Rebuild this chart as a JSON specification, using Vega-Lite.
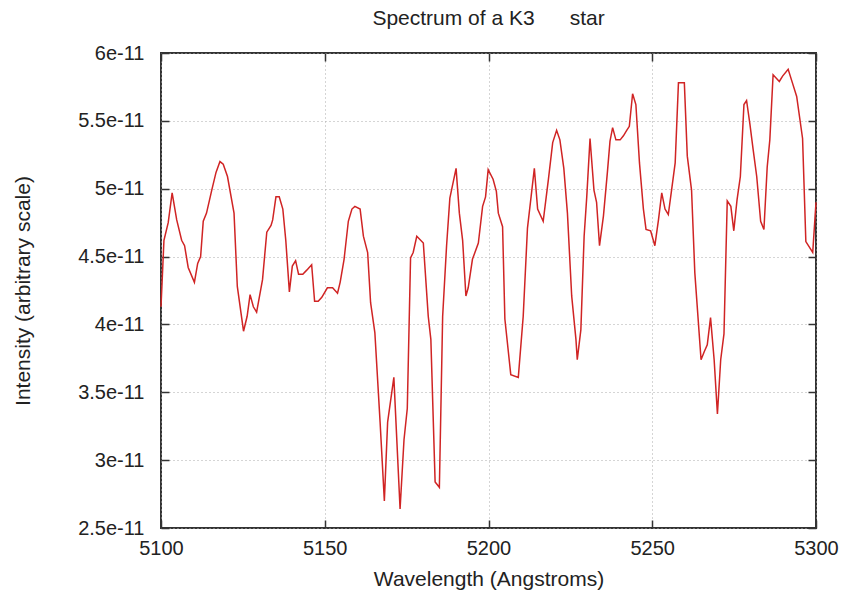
{
  "$schema": "https://vega.github.io/schema/vega-lite/v6.json",
  "autosize": "none",
  "width": 655,
  "height": 475,
  "padding": {"left": 161, "top": 53, "right": 30, "bottom": 67},
  "background": "white",
  "title": {"text": "Spectrum of a K3\u00a0\u00a0\u00a0\u00a0\u00a0\u00a0star", "font": "Liberation Sans", "fontSize": 21, "fontWeight": "normal", "color": "#222", "offset": 14},
  "config": {
    "view": {"stroke": "#333", "strokeWidth": 2},
    "axis": {"labelFont": "Liberation Sans", "titleFont": "Liberation Sans", "labelFontSize": 20, "titleFontSize": 21, "titleFontWeight": "normal", "labelColor": "#222", "titleColor": "#222", "domain": false, "tickColor": "#333", "tickWidth": 1.5}
  },
  "data": {"values": [
    {"wl": 5100.0, "v": 4.13e-11}, {"wl": 5100.9, "v": 4.62e-11}, {"wl": 5102.2, "v": 4.75e-11}, {"wl": 5103.4, "v": 4.97e-11},
    {"wl": 5104.8, "v": 4.77e-11}, {"wl": 5106.3, "v": 4.62e-11}, {"wl": 5107.2, "v": 4.58e-11}, {"wl": 5108.3, "v": 4.42e-11},
    {"wl": 5110.2, "v": 4.31e-11}, {"wl": 5111.2, "v": 4.45e-11}, {"wl": 5112.1, "v": 4.50e-11}, {"wl": 5112.9, "v": 4.76e-11},
    {"wl": 5113.9, "v": 4.82e-11}, {"wl": 5115.5, "v": 4.99e-11}, {"wl": 5116.8, "v": 5.12e-11}, {"wl": 5118.0, "v": 5.20e-11},
    {"wl": 5119.0, "v": 5.18e-11}, {"wl": 5120.3, "v": 5.09e-11}, {"wl": 5122.3, "v": 4.82e-11}, {"wl": 5123.3, "v": 4.28e-11},
    {"wl": 5125.2, "v": 3.95e-11}, {"wl": 5126.3, "v": 4.06e-11}, {"wl": 5127.2, "v": 4.22e-11}, {"wl": 5128.2, "v": 4.13e-11},
    {"wl": 5129.2, "v": 4.09e-11}, {"wl": 5131.0, "v": 4.33e-11}, {"wl": 5132.3, "v": 4.68e-11}, {"wl": 5133.6, "v": 4.73e-11},
    {"wl": 5134.1, "v": 4.77e-11}, {"wl": 5135.1, "v": 4.94e-11}, {"wl": 5136.1, "v": 4.94e-11}, {"wl": 5137.2, "v": 4.85e-11},
    {"wl": 5138.1, "v": 4.62e-11}, {"wl": 5139.2, "v": 4.24e-11}, {"wl": 5140.1, "v": 4.43e-11}, {"wl": 5141.1, "v": 4.47e-11},
    {"wl": 5142.0, "v": 4.37e-11}, {"wl": 5143.3, "v": 4.37e-11}, {"wl": 5144.5, "v": 4.40e-11}, {"wl": 5146.0, "v": 4.44e-11},
    {"wl": 5146.9, "v": 4.17e-11}, {"wl": 5148.0, "v": 4.17e-11}, {"wl": 5149.1, "v": 4.20e-11}, {"wl": 5150.8, "v": 4.27e-11},
    {"wl": 5152.4, "v": 4.27e-11}, {"wl": 5153.9, "v": 4.23e-11}, {"wl": 5154.7, "v": 4.31e-11}, {"wl": 5155.9, "v": 4.48e-11},
    {"wl": 5157.2, "v": 4.76e-11}, {"wl": 5158.3, "v": 4.85e-11}, {"wl": 5159.2, "v": 4.87e-11}, {"wl": 5160.8, "v": 4.85e-11},
    {"wl": 5161.8, "v": 4.65e-11}, {"wl": 5163.1, "v": 4.53e-11}, {"wl": 5164.0, "v": 4.16e-11}, {"wl": 5165.3, "v": 3.94e-11},
    {"wl": 5166.9, "v": 3.28e-11}, {"wl": 5168.2, "v": 2.70e-11}, {"wl": 5169.2, "v": 3.28e-11}, {"wl": 5171.1, "v": 3.61e-11},
    {"wl": 5173.0, "v": 2.64e-11}, {"wl": 5174.2, "v": 3.15e-11}, {"wl": 5175.2, "v": 3.38e-11}, {"wl": 5176.2, "v": 4.49e-11},
    {"wl": 5177.0, "v": 4.53e-11}, {"wl": 5178.1, "v": 4.65e-11}, {"wl": 5180.1, "v": 4.60e-11}, {"wl": 5181.6, "v": 4.06e-11},
    {"wl": 5182.4, "v": 3.89e-11}, {"wl": 5183.7, "v": 2.84e-11}, {"wl": 5185.0, "v": 2.80e-11}, {"wl": 5186.0, "v": 4.06e-11},
    {"wl": 5187.2, "v": 4.58e-11}, {"wl": 5188.2, "v": 4.93e-11}, {"wl": 5190.1, "v": 5.15e-11}, {"wl": 5191.1, "v": 4.82e-11},
    {"wl": 5192.1, "v": 4.62e-11}, {"wl": 5193.1, "v": 4.21e-11}, {"wl": 5193.8, "v": 4.27e-11}, {"wl": 5195.1, "v": 4.48e-11},
    {"wl": 5196.9, "v": 4.60e-11}, {"wl": 5198.2, "v": 4.87e-11}, {"wl": 5199.1, "v": 4.94e-11}, {"wl": 5199.9, "v": 5.14e-11},
    {"wl": 5201.4, "v": 5.07e-11}, {"wl": 5202.4, "v": 4.98e-11}, {"wl": 5203.0, "v": 4.82e-11}, {"wl": 5204.3, "v": 4.72e-11},
    {"wl": 5205.0, "v": 4.04e-11}, {"wl": 5206.8, "v": 3.63e-11}, {"wl": 5209.1, "v": 3.61e-11}, {"wl": 5210.6, "v": 4.06e-11},
    {"wl": 5211.9, "v": 4.71e-11}, {"wl": 5213.0, "v": 4.94e-11}, {"wl": 5214.0, "v": 5.15e-11}, {"wl": 5215.0, "v": 4.85e-11},
    {"wl": 5216.7, "v": 4.76e-11}, {"wl": 5218.3, "v": 5.07e-11}, {"wl": 5219.6, "v": 5.34e-11}, {"wl": 5220.8, "v": 5.43e-11},
    {"wl": 5221.8, "v": 5.36e-11}, {"wl": 5223.0, "v": 5.15e-11}, {"wl": 5224.1, "v": 4.82e-11}, {"wl": 5225.4, "v": 4.21e-11},
    {"wl": 5226.7, "v": 3.89e-11}, {"wl": 5227.1, "v": 3.74e-11}, {"wl": 5228.2, "v": 3.96e-11}, {"wl": 5229.2, "v": 4.65e-11},
    {"wl": 5230.0, "v": 4.94e-11}, {"wl": 5231.0, "v": 5.37e-11}, {"wl": 5232.2, "v": 4.99e-11}, {"wl": 5233.0, "v": 4.90e-11},
    {"wl": 5233.9, "v": 4.58e-11}, {"wl": 5235.1, "v": 4.80e-11}, {"wl": 5236.3, "v": 5.12e-11}, {"wl": 5237.1, "v": 5.35e-11},
    {"wl": 5237.9, "v": 5.45e-11}, {"wl": 5238.9, "v": 5.36e-11}, {"wl": 5240.2, "v": 5.36e-11}, {"wl": 5241.2, "v": 5.39e-11},
    {"wl": 5242.2, "v": 5.43e-11}, {"wl": 5243.0, "v": 5.46e-11}, {"wl": 5244.0, "v": 5.70e-11}, {"wl": 5245.0, "v": 5.62e-11},
    {"wl": 5246.1, "v": 5.19e-11}, {"wl": 5247.3, "v": 4.85e-11}, {"wl": 5248.1, "v": 4.70e-11}, {"wl": 5249.5, "v": 4.69e-11},
    {"wl": 5250.8, "v": 4.58e-11}, {"wl": 5251.9, "v": 4.77e-11}, {"wl": 5252.9, "v": 4.97e-11}, {"wl": 5253.9, "v": 4.85e-11},
    {"wl": 5254.9, "v": 4.81e-11}, {"wl": 5255.9, "v": 4.99e-11}, {"wl": 5257.0, "v": 5.19e-11}, {"wl": 5258.0, "v": 5.78e-11},
    {"wl": 5259.8, "v": 5.78e-11}, {"wl": 5260.7, "v": 5.24e-11}, {"wl": 5262.0, "v": 4.99e-11}, {"wl": 5263.0, "v": 4.38e-11},
    {"wl": 5264.9, "v": 3.74e-11}, {"wl": 5265.9, "v": 3.80e-11}, {"wl": 5266.8, "v": 3.85e-11}, {"wl": 5267.8, "v": 4.05e-11},
    {"wl": 5268.9, "v": 3.74e-11}, {"wl": 5269.9, "v": 3.34e-11}, {"wl": 5270.9, "v": 3.74e-11}, {"wl": 5271.9, "v": 3.93e-11},
    {"wl": 5272.9, "v": 4.91e-11}, {"wl": 5274.0, "v": 4.87e-11}, {"wl": 5274.9, "v": 4.69e-11}, {"wl": 5275.9, "v": 4.92e-11},
    {"wl": 5276.9, "v": 5.09e-11}, {"wl": 5278.0, "v": 5.62e-11}, {"wl": 5278.8, "v": 5.65e-11}, {"wl": 5279.8, "v": 5.48e-11},
    {"wl": 5280.8, "v": 5.29e-11}, {"wl": 5281.9, "v": 5.09e-11}, {"wl": 5283.1, "v": 4.76e-11}, {"wl": 5284.1, "v": 4.70e-11},
    {"wl": 5285.1, "v": 5.16e-11}, {"wl": 5285.9, "v": 5.36e-11}, {"wl": 5286.9, "v": 5.84e-11}, {"wl": 5288.8, "v": 5.79e-11},
    {"wl": 5289.8, "v": 5.83e-11}, {"wl": 5291.5, "v": 5.88e-11}, {"wl": 5292.8, "v": 5.78e-11}, {"wl": 5294.1, "v": 5.68e-11},
    {"wl": 5295.9, "v": 5.37e-11}, {"wl": 5296.9, "v": 4.61e-11}, {"wl": 5299.0, "v": 4.53e-11}, {"wl": 5300.0, "v": 4.90e-11}
  ]},
  "layer": [
    {
      "mark": {"type": "line", "color": "#d02424", "strokeWidth": 1.5},
      "encoding": {
        "x": {"field": "wl", "type": "quantitative", "scale": {"domain": [5100, 5300], "nice": false, "zero": false},
          "axis": {"title": "Wavelength (Angstroms)", "values": [5100, 5150, 5200, 5250, 5300], "format": "d", "tickSize": -8, "labelPadding": 18, "titlePadding": 10, "grid": true, "gridColor": "#aaa", "gridDash": [1, 3], "gridWidth": 1, "labelFlush": false}},
        "y": {"field": "v", "type": "quantitative", "scale": {"domain": [2.5e-11, 6e-11], "nice": false, "zero": false},
          "axis": {"title": "Intensity (arbitrary scale)", "values": [2.5e-11, 3e-11, 3.5e-11, 4e-11, 4.5e-11, 5e-11, 5.5e-11, 6e-11], "labelExpr": "format(datum.value*1e11, '.2~f') + 'e-11'", "tickSize": -8, "labelPadding": 25, "titlePadding": 44, "grid": true, "gridColor": "#aaa", "gridDash": [1, 3], "gridWidth": 1, "labelFlush": false}}
      }
    },
    {
      "mark": {"type": "line", "opacity": 0},
      "encoding": {
        "x": {"field": "wl", "type": "quantitative", "axis": {"orient": "top", "title": null, "labels": false, "grid": false, "tickSize": -8, "values": [5100, 5150, 5200, 5250, 5300]}},
        "y": {"field": "v", "type": "quantitative", "axis": {"orient": "right", "title": null, "labels": false, "grid": false, "tickSize": -8, "values": [2.5e-11, 3e-11, 3.5e-11, 4e-11, 4.5e-11, 5e-11, 5.5e-11, 6e-11]}}
      }
    }
  ],
  "resolve": {"axis": {"x": "independent", "y": "independent"}}
}
